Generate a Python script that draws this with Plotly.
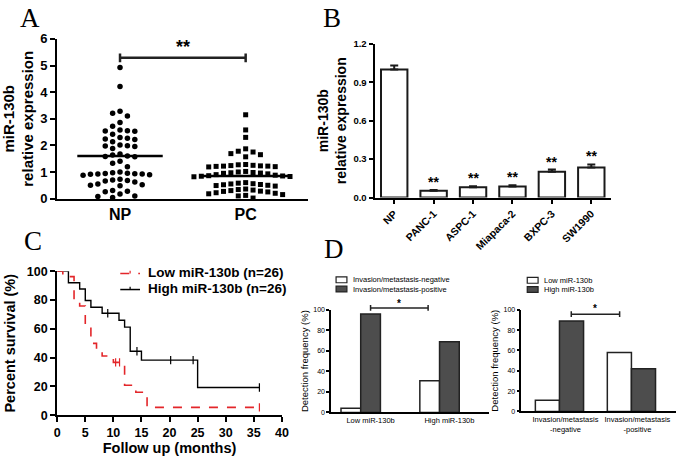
import plotly.graph_objects as go

W, H = 686, 463


def fx(p):
    return p / W


def fy(p):
    return 1 - p / H


# ---------------- data ----------------
# Panel A: miR-130b relative expression (dot plot)
groups = ["NP", "PC"]
np_vals = [4.93, 4.21, 3.28, 3.21, 3.10, 2.86, 2.72, 2.58, 2.55, 2.54, 2.53, 2.42,
           2.30, 2.27, 2.24, 2.22, 2.14, 2.01, 1.99, 1.98, 1.96, 1.88, 1.68, 1.64,
           1.60, 1.58, 1.57, 1.40, 1.33, 1.20, 1.00, 0.97, 0.95, 0.94, 0.93, 0.92,
           0.92, 0.91, 0.90, 0.88, 0.73, 0.70, 0.68, 0.66, 0.62, 0.55, 0.52, 0.50,
           0.48, 0.30, 0.28, 0.26, 0.17, 0.10, 0.08, 0.04]
pc_vals = [3.15, 2.58, 2.30, 1.87, 1.78, 1.75, 1.69, 1.65, 1.57, 1.28, 1.27, 1.25,
           1.24, 1.23, 1.22, 1.22, 1.21, 1.20, 1.19, 1.02, 1.00, 0.98, 0.97, 0.96,
           0.95, 0.93, 0.90, 0.88, 0.86, 0.85, 0.84, 0.83, 0.82, 0.60, 0.58, 0.56,
           0.55, 0.53, 0.52, 0.50, 0.49, 0.47, 0.36, 0.34, 0.32, 0.30, 0.28, 0.27,
           0.25, 0.22, 0.20, 0.18, 0.15, 0.12, 0.10, 0.02]
group_means = [1.60, 0.85]

# Panel B: cell lines
cell_lines = ["NP", "PANC-1", "ASPC-1", "Miapaca-2", "BXPC-3", "SW1990"]
cell_expr = [1.00, 0.053, 0.080, 0.086, 0.201, 0.234]
cell_err = [0.030, 0.007, 0.008, 0.010, 0.018, 0.025]

# Panel C: Kaplan-Meier
km_low_t = [0, 1, 3, 4, 5, 6, 7, 8, 10, 12, 14, 16, 36]
km_low_s = [100, 96.2, 80.0, 75.8, 63.0, 49.9, 45.4, 41.2, 36.7, 20.9, 16.0, 5.5, 5.5]
km_low_cens_t = [10.4, 11.1, 36]
km_low_cens_s = [36.7, 36.7, 5.5]
km_high_t = [0, 2, 4, 5, 6, 8, 11, 12, 13, 15, 25, 36]
km_high_s = [100, 92.0, 87.6, 79.6, 75.0, 70.8, 66.0, 61.2, 44.4, 38.3, 19.3, 19.3]
km_high_cens_t = [9, 14.2, 20.2, 24.2, 36]
km_high_cens_s = [70.8, 44.4, 38.3, 38.3, 19.3]
km_labels = ["Low miR-130b (n=26)", "High miR-130b (n=26)"]

# Panel D
d1_cats = ["Low miR-130b", "High miR-130b"]
d1_neg = [4, 31]
d1_pos = [96, 69]
d1_labels = ["Invasion/metastasis-negative", "Invasion/metastasis-positive"]
d2_cats = ["Invasion/metastasis<br>-negative", "Invasion/metastasis<br>-positive"]
d2_low = [11, 58]
d2_high = [89, 42]
d2_labels = ["Low miR-130b", "High miR-130b"]

FONT = "Liberation Sans, Arial, sans-serif"
DARK = "#4d4d4d"
RED = "#e3262a"


def swarm(vals, step_px, xpx_per_unit, ypx_per_unit, min_dy):
    order = sorted(range(len(vals)), key=lambda i: -vals[i])
    placed = []
    offs = [0.0] * len(vals)
    cands = [0]
    for k in range(1, 12):
        cands += [-k, k]
    for i in order:
        y = vals[i] * ypx_per_unit
        for c in cands:
            if all(not (pc == c and abs(pyy - y) < min_dy) for pc, pyy in placed):
                break
        placed.append((c, y))
        offs[i] = c * step_px / xpx_per_unit
    return offs


fig = go.Figure()

# ---------- Panel A ----------
XU, YU = 127.5, 27.45
np_off = swarm(np_vals, 7.5, XU, YU, 6.5)
pc_off = swarm(pc_vals, 7.5, XU, YU, 6.5)
fig.add_trace(go.Scatter(x=[0 + o for o in np_off], y=np_vals, mode="markers",
                         marker=dict(symbol="circle", size=5.5, color="black"),
                         cliponaxis=False, xaxis="x", yaxis="y"))
fig.add_trace(go.Scatter(x=[1 + o for o in pc_off], y=pc_vals, mode="markers",
                         marker=dict(symbol="square", size=5, color="black"),
                         cliponaxis=False, xaxis="x", yaxis="y"))
for i, m in enumerate(group_means):
    fig.add_trace(go.Scatter(x=[i - 0.34, i + 0.34], y=[m, m], mode="lines",
                             line=dict(color="black", width=2.5), xaxis="x", yaxis="y"))

# ---------- Panel B ----------
fig.add_trace(go.Bar(x=cell_lines, y=cell_expr, width=0.67,
                     marker=dict(color="white", line=dict(color="#1a1a1a", width=2)),
                     error_y=dict(type="data", array=cell_err, arrayminus=[0] * len(cell_err),
                                  symmetric=False, color="#1a1a1a", thickness=2, width=4),
                     xaxis="x2", yaxis="y2"))

# ---------- Panel C ----------
fig.add_trace(go.Scatter(x=km_high_t, y=km_high_s, mode="lines", line_shape="hv",
                         line=dict(color="black", width=1.4), xaxis="x3", yaxis="y3"))
fig.add_trace(go.Scatter(x=km_low_t, y=km_low_s, mode="lines", line_shape="hv",
                         line=dict(color=RED, width=1.6, dash="dash"), xaxis="x3", yaxis="y3"))
fig.add_trace(go.Scatter(x=km_high_cens_t, y=km_high_cens_s, mode="markers",
                         marker=dict(symbol="line-ns", size=6, line=dict(color="black", width=1.2)),
                         xaxis="x3", yaxis="y3"))
fig.add_trace(go.Scatter(x=km_low_cens_t, y=km_low_cens_s, mode="markers",
                         marker=dict(symbol="line-ns", size=6, line=dict(color=RED, width=1.2)),
                         xaxis="x3", yaxis="y3"))

# ---------- Panel D left ----------
fig.add_trace(go.Bar(x=d1_cats, y=d1_neg, width=0.25, offset=-0.375,
                     marker=dict(color="white", line=dict(color="#222", width=1.5)),
                     xaxis="x4", yaxis="y4"))
fig.add_trace(go.Bar(x=d1_cats, y=d1_pos, width=0.25, offset=-0.125,
                     marker=dict(color=DARK, line=dict(color="#222", width=1.5)),
                     xaxis="x4", yaxis="y4"))
# ---------- Panel D right ----------
fig.add_trace(go.Bar(x=d2_cats, y=d2_low, width=0.335, offset=-0.335,
                     marker=dict(color="white", line=dict(color="#222", width=1.5)),
                     xaxis="x5", yaxis="y5"))
fig.add_trace(go.Bar(x=d2_cats, y=d2_high, width=0.335, offset=0,
                     marker=dict(color=DARK, line=dict(color="#222", width=1.5)),
                     xaxis="x5", yaxis="y5"))


def ax(domain, **kw):
    base = dict(domain=domain, showline=True, linecolor="black", linewidth=2,
                showgrid=False, zeroline=False, ticks="outside", tickcolor="black",
                tickwidth=2, ticklen=5, tickfont=dict(color="black", family=FONT))
    base.update(kw)
    return base


bold = dict(family=FONT, color="black", weight="bold")

fig.update_layout(
    width=W, height=H, margin=dict(l=0, r=0, t=0, b=0),
    paper_bgcolor="white", plot_bgcolor="white", showlegend=False, barmode="overlay",
    font=dict(family=FONT, color="black"),
    xaxis=ax([fx(55), fx(310)], range=[-0.5, 1.5], tickvals=[0, 1], ticktext=groups,
             ticks="", tickfont=dict(size=16, **bold), anchor="y"),
    yaxis=ax([fy(198), fy(33)], range=[0, 6], dtick=1, tickfont=dict(size=13, **bold),
             title=dict(text="miR-130b<br>relative expression", font=dict(size=15, **bold),
                        standoff=4), anchor="x"),
    xaxis2=ax([fx(377), fx(617)], type="category", range=[-0.5, 5.5], tickangle=-45,
              ticklen=4, tickfont=dict(size=10.5, **bold), anchor="y2"),
    yaxis2=ax([fy(197), fy(38)], range=[0, 1.2], tickvals=[0, 0.3, 0.6, 0.9, 1.2],
              tickformat=".1f", ticklen=4, tickfont=dict(size=9.5, **bold),
              title=dict(text="miR-130b<br>relative expression", font=dict(size=14, **bold),
                         standoff=3), anchor="x2"),
    xaxis3=ax([fx(55), fx(283)], range=[0, 40], dtick=5, tickfont=dict(size=12.5, **bold),
              title=dict(text="Follow up (months)", font=dict(size=14.5, **bold), standoff=4),
              anchor="y3"),
    yaxis3=ax([fy(422), fy(273)], range=[0, 100], dtick=20, tickfont=dict(size=12.5, **bold),
              title=dict(text="Percent survival (%)", font=dict(size=14.5, **bold), standoff=8),
              anchor="x3"),
    xaxis4=ax([fx(333), fx(493)], type="category", range=[-0.5, 1.5], ticks="",
              linewidth=1.5, tickfont=dict(size=7.5, family=FONT, color="black"), anchor="y4"),
    yaxis4=ax([fy(419), fy(313)], range=[0, 100], dtick=20, linewidth=1.5, tickwidth=1.5,
              ticklen=3, tickfont=dict(size=7, family=FONT, color="black"),
              title=dict(text="Detection frequency (%)", font=dict(size=9.5, family=FONT),
                         standoff=3), anchor="x4"),
    xaxis5=ax([fx(526), fx(683)], type="category", range=[-0.53, 1.62], ticks="",
              linewidth=1.5, ticklabelshift=6,
              tickfont=dict(size=7.5, family=FONT, color="black"), anchor="y5"),
    yaxis5=ax([fy(418), fy(313)], range=[0, 100], dtick=20, linewidth=1.5, tickwidth=1.5,
              ticklen=3, tickfont=dict(size=7, family=FONT, color="black"),
              title=dict(text="Detection frequency (%)", font=dict(size=9.5, family=FONT),
                         standoff=3), anchor="x5"),
)

shapes = []
ann = []


def bracket(xref, x0, x1, ypx, h, w=2):
    shapes.append(dict(type="line", xref=xref, yref="paper", x0=x0, x1=x1,
                       y0=fy(ypx), y1=fy(ypx), line=dict(color="#222", width=w)))
    for xx in (x0, x1):
        shapes.append(dict(type="line", xref=xref, yref="paper", x0=xx, x1=xx,
                           y0=fy(ypx + h), y1=fy(ypx - h), line=dict(color="#222", width=w)))


def star(xref, x, ypx, text, size):
    ann.append(dict(x=x, y=fy(ypx), xref=xref, yref="paper", text=text, showarrow=False,
                    font=dict(size=size, **bold), yanchor="middle"))


# Panel A significance
bracket("x", 0, 1, 52.5, 4.5, 2.5)
star("x", 0.5, 41, "**", 18)
# Panel B stars
for c, v, e in zip(cell_lines[1:], cell_expr[1:], cell_err[1:]):
    ann.append(dict(x=c, y=v + e, xref="x2", yref="y2", text="**", showarrow=False,
                    font=dict(size=14, **bold), yanchor="bottom", yshift=-2))
# Panel D brackets
bracket("x4", 0.0, 0.73, 311, 3, 1.5)
star("x4", 0.365, 306, "*", 10)
bracket("x5", 0.164, 0.836, 317.5, 3, 1.5)
star("x5", 0.5, 311.5, "*", 10)

# Panel C legend (manual)
for lbl, yy, col, dash in [(km_labels[0], 274.5, RED, "dash"), (km_labels[1], 291, "black", "solid")]:
    shapes.append(dict(type="line", xref="paper", yref="paper", x0=fx(119), x1=fx(139),
                       y0=fy(yy + 1), y1=fy(yy + 1), line=dict(color=col, width=1.5, dash=dash)))
    shapes.append(dict(type="line", xref="paper", yref="paper", x0=fx(129), x1=fx(129),
                       y0=fy(yy - 2), y1=fy(yy + 1), line=dict(color=col, width=1.2)))
    ann.append(dict(x=fx(145), y=fy(yy), xref="paper", yref="paper", text=lbl, showarrow=False,
                    xanchor="left", yanchor="middle", font=dict(size=13.5, **bold)))

# Panel D legends (manual)
for (lbls, bx, ys) in [(d1_labels, 338, (282, 291.5)), (d2_labels, 532, (282.5, 292))]:
    for lbl, yy, fill in zip(lbls, ys, ["white", DARK]):
        shapes.append(dict(type="rect", xref="paper", yref="paper", x0=fx(bx), x1=fx(bx + 11),
                           y0=fy(yy + 3), y1=fy(yy - 3), fillcolor=fill,
                           line=dict(color="#222", width=1.2)))
        ann.append(dict(x=fx(bx + 15), y=fy(yy), xref="paper", yref="paper", text=lbl,
                        showarrow=False, xanchor="left", yanchor="middle",
                        font=dict(size=7.5, family=FONT, color="black")))

# Panel letters
for letter, xx, yy in [("A", 27, 11), ("B", 334, 11), ("C", 30, 242), ("D", 336, 250)]:
    ann.append(dict(x=fx(xx), y=fy(yy), xref="paper", yref="paper", text=letter, showarrow=False,
                    xanchor="center", yanchor="middle",
                    font=dict(size=27, family="Liberation Serif, Times New Roman, serif", color="black")))

fig.update_layout(shapes=shapes, annotations=ann)
fig.write_html("out.html", config={"displayModeBar": False},
               post_script="document.body.style.margin='0';document.body.style.overflow='hidden';")
